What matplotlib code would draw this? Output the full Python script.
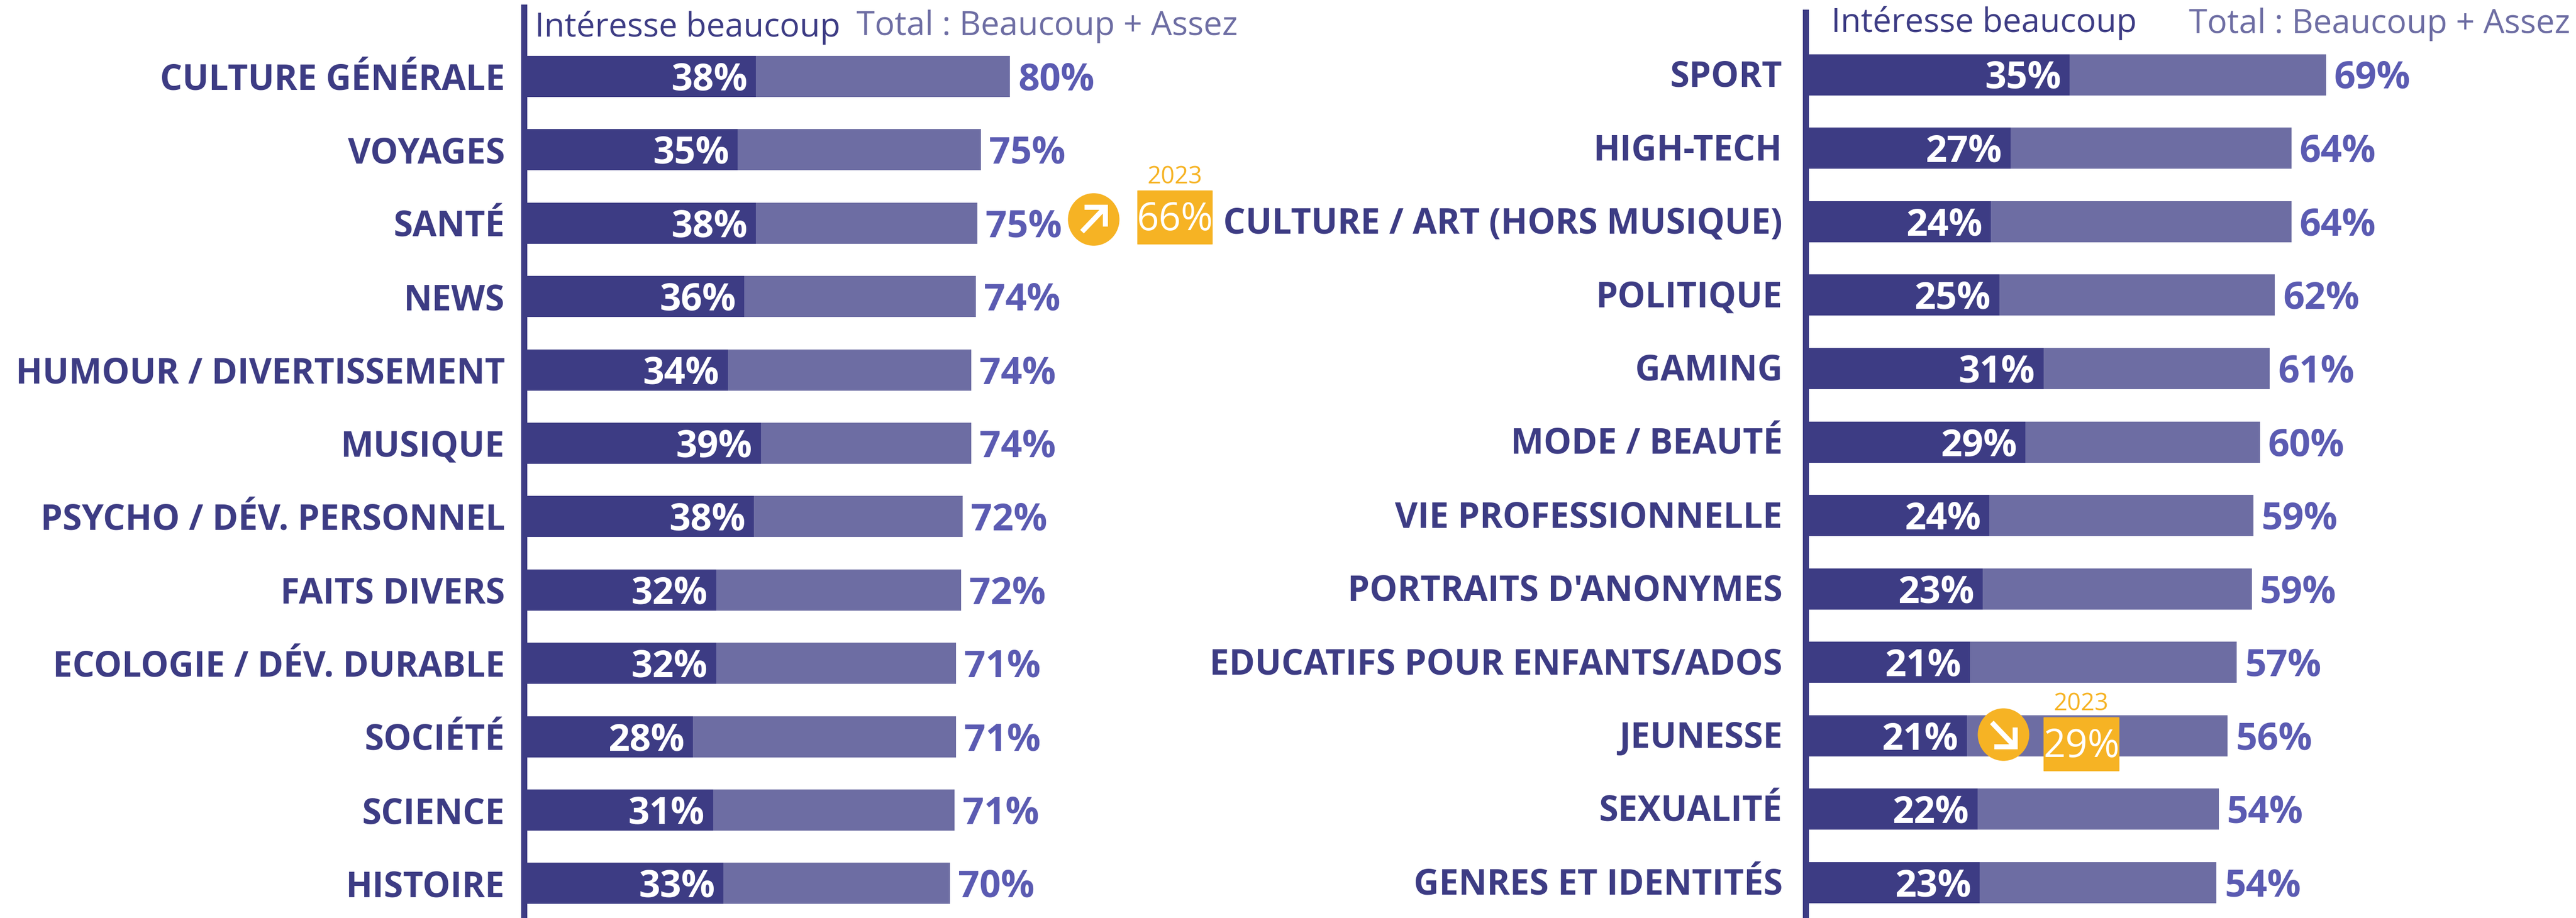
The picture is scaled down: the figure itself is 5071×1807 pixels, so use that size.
import matplotlib
matplotlib.use("Agg")
import matplotlib.pyplot as plt
from matplotlib.patches import Ellipse, Rectangle
from matplotlib.transforms import ScaledTranslation

plt.rcParams['font.family'] = ['Open Sans', 'DejaVu Sans']

W, H = 5071, 1807
DARK = '#3D3C84'
LIGHT = '#6D6DA3'
VALUE = '#5B5BB2'
GOLD = '#F6B324'

left_names = ["CULTURE GÉNÉRALE", "VOYAGES", "SANTÉ", "NEWS", "HUMOUR / DIVERTISSEMENT", "MUSIQUE",
              "PSYCHO / DÉV. PERSONNEL", "FAITS DIVERS", "ECOLOGIE / DÉV. DURABLE", "SOCIÉTÉ", "SCIENCE", "HISTOIRE"]
left_much = [38.0, 35.0, 38.0, 36.1, 33.4, 38.8, 37.7, 31.5, 31.5, 27.7, 31.0, 32.7]
left_total = [79.7, 74.9, 74.3, 74.1, 73.3, 73.3, 71.9, 71.7, 70.8, 70.8, 70.6, 69.8]
left_much_labels = [38, 35, 38, 36, 34, 39, 38, 32, 32, 28, 31, 33]
left_total_labels = [80, 75, 75, 74, 74, 74, 72, 72, 71, 71, 71, 70]

right_names = ["SPORT", "HIGH-TECH", "CULTURE / ART (HORS MUSIQUE)", "POLITIQUE", "GAMING", "MODE / BEAUTÉ",
               "VIE PROFESSIONNELLE", "PORTRAITS D'ANONYMES", "EDUCATIFS POUR ENFANTS/ADOS", "JEUNESSE",
               "SEXUALITÉ", "GENRES ET IDENTITÉS"]
right_much = [35.2, 27.3, 24.7, 25.8, 31.7, 29.3, 24.5, 23.6, 21.9, 21.5, 22.9, 23.2]
right_total = [69.4, 64.8, 64.8, 62.6, 61.9, 60.6, 59.7, 59.5, 57.5, 56.3, 55.1, 54.8]
right_much_labels = [35, 27, 24, 25, 31, 29, 24, 23, 21, 21, 22, 23]
right_total_labels = [69, 64, 64, 62, 61, 60, 59, 59, 57, 56, 54, 54]

PT = 0.72  # points par pixel a dpi=100


def draw_panel(fig, x0, x1, y0, first, step, px_per_pct, names, much, total, much_labels, total_labels, pad, lift):
    ax = fig.add_axes([x0 / W, 0, (x1 - x0) / W, (H - y0) / H])
    ax.patch.set_alpha(0)
    ax.set_xlim(0, (x1 - x0) / px_per_pct)
    ax.set_ylim((H - first) / step, (y0 - first) / step)
    rows = list(range(len(names)))
    ax.barh(rows, total, height=81 / step, color=LIGHT, zorder=2)
    ax.barh(rows, much, height=81 / step, color=DARK, zorder=3)
    for row in rows:
        ax.annotate(f"{much_labels[row]}%", (much[row], row), xytext=(-17 * PT, -8 * PT),
                    textcoords='offset points', ha='right', va='center', color='white',
                    fontsize=53, fontweight='bold', zorder=4)
        ax.annotate(f"{total_labels[row]}%", (total[row], row), xytext=(16 * PT, -8 * PT),
                    textcoords='offset points', ha='left', va='center', color=VALUE,
                    fontsize=53, fontweight='bold', zorder=4)
    for side in ['top', 'right', 'bottom']:
        ax.spines[side].set_visible(False)
    ax.spines['left'].set_linewidth(12 * PT)
    ax.spines['left'].set_color(DARK)
    ax.spines['left'].set_zorder(5)
    ax.set_xticks([])
    ax.set_yticks(rows)
    ax.set_yticklabels(names, fontsize=49.5, fontweight='bold', color=DARK)
    ax.tick_params(axis='y', length=0, pad=pad * PT)
    for label in ax.get_yticklabels():
        label.set_transform(label.get_transform() + ScaledTranslation(0, lift / 100, fig.dpi_scale_trans))
    return ax


fig = plt.figure(figsize=(W / 100, H / 100), dpi=100, facecolor='white')

draw_panel(fig, 1032, 2700, 15, 150.5, 144.4, 12.0, left_names, left_much, left_total,
           left_much_labels, left_total_labels, 38, 0)
draw_panel(fig, 3555, 5071, 25, 147, 144.6, 14.75, right_names, right_much, right_total,
           right_much_labels, right_total_labels, 46, 3)

# calque en pixels pour les en-tetes et les encadres 2023
over = fig.add_axes([0, 0, 1, 1], zorder=10)
over.patch.set_alpha(0)
over.set_xlim(0, W)
over.set_ylim(H, 0)
over.axis('off')


def header(x, y, text, color):
    over.text(x, y, text, ha='left', va='baseline', color=color, fontsize=47)


header(1053, 72, "Intéresse beaucoup", DARK)
header(1686, 69, "Total : Beaucoup + Assez", LIGHT)
header(3605, 63, "Intéresse beaucoup", DARK)
header(4309, 65, "Total : Beaucoup + Assez", LIGHT)


def callout(cx, cy, bx0, bx1, by0, by1, text, up):
    over.add_patch(Ellipse((cx, cy), 100, 102, color=GOLD, zorder=2))
    sign = -1 if up else 1
    # fleche blanche : diagonale + deux branches
    tip = (cx + 23, cy + sign * 24)
    over.plot([cx - 23, tip[0]], [cy - sign * 24, tip[1]], color='white', lw=10 * PT, zorder=3,
              solid_capstyle='butt')
    over.plot([cx - 18, tip[0], tip[0]], [tip[1], tip[1], tip[1] - sign * 38], color='white',
              lw=10 * PT, zorder=3, solid_joinstyle='miter', solid_capstyle='butt')
    over.add_patch(Rectangle((bx0, by0), bx1 - bx0, by1 - by0, color=GOLD, zorder=2))
    mid = (bx0 + bx1) / 2
    over.text(mid, by0 - 27, "2023", ha='center', va='center', color=GOLD, fontsize=34, zorder=3)
    over.text(mid, (by0 + by1) / 2 + 5, text, ha='center', va='center', color='white', fontsize=55, zorder=3)


callout(2153, 432, 2239, 2386, 375, 480, "66%", True)
callout(3944, 1446, 4023, 4171, 1412, 1517, "29%", False)

fig.savefig("out.png", dpi=100)
